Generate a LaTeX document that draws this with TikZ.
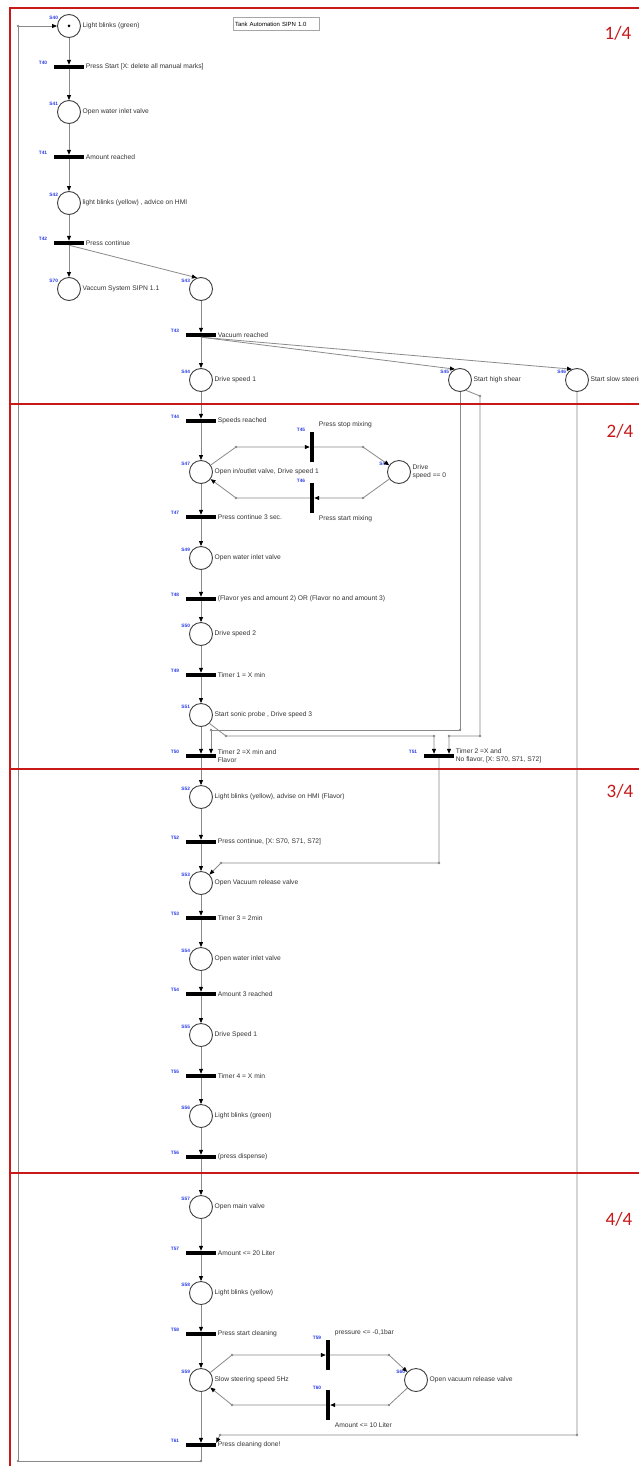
\documentclass[tikz,border=0pt]{standalone}
\usepackage{fontspec}
\setmainfont{Liberation Sans}
\newfontfamily\sheetfont{Carlito}
\usetikzlibrary{arrows.meta}
\definecolor{arcgrey}{RGB}{138,138,138}
\definecolor{idblue}{RGB}{40,60,230}
\definecolor{sheetred}{RGB}{200,24,24}

\begin{document}
\begin{tikzpicture}[
        x=1pt,y=-1pt,
        every node/.style={font=\fontsize{6.7}{8}\selectfont},
        place/.style={circle,draw=black!75,line width=0.9pt,fill=white,minimum size=23pt,inner sep=0pt},
        pl/.style 2 args={place,
            label={[idtag,anchor=south east]150:#1},
            label={[desctxt,anchor=west]east:#2}},
        bar/.style={fill=black,inner sep=0pt,minimum width=30pt,minimum height=4pt},
        tr/.style 2 args={bar,
            label={[idtag,anchor=east,xshift=-6pt,yshift=4pt]west:#1},
            label={[desctxt,anchor=west]east:#2}},
        vbar/.style={bar,minimum width=4pt,minimum height=30pt},
        vtrup/.style 2 args={vbar,
            label={[idtag,anchor=south east,xshift=-4pt]north west:#1},
            label={[desctxt,anchor=south west,xshift=3pt,yshift=2pt]north east:#2}},
        vtrdown/.style 2 args={vbar,
            label={[idtag,anchor=south east,xshift=-4pt]north west:#1},
            label={[desctxt,anchor=north west,xshift=3pt,yshift=-1pt]south east:#2}},
        idtag/.style={font=\fontsize{4.8}{5}\selectfont\bfseries,text=idblue,inner sep=0.5pt},
        desctxt/.style={text=black!80,inner sep=1.5pt,align=left},
        flow/.style={draw=arcgrey,line width=0.8pt,-{Triangle[length=5pt,width=4pt,color=black]}},
        sheet/.style={draw=sheetred,line width=1.6pt},
        sheetno/.style={font=\sheetfont\fontsize{19}{22}\selectfont,text=sheetred}
    ]
    \fill[white] (0,0) rectangle (639,1466);
    \useasboundingbox (0,0) rectangle (639,1466);

    \node[draw=black!35,minimum width=86pt,minimum height=13pt,inner sep=2pt,text width=82pt,font=\fontsize{6}{7}\selectfont] (title) at (276,24) {Tank Automation SIPN 1.0};

    \node[pl={S40}{Light blinks (green)}] (S40) at (69,26) {};
    \node[tr={T40}{Press Start [X: delete all manual marks]}] (T40) at (69,67) {};
    \node[pl={S41}{Open water inlet valve}] (S41) at (69,112) {};
    \node[tr={T41}{Amount reached}] (T41) at (69,157) {};
    \node[pl={S42}{light blinks (yellow) , advice on HMI}] (S42) at (69,203) {};
    \node[tr={T42}{Press continue}] (T42) at (69,243) {};
    \node[pl={S70}{Vaccum System SIPN 1.1}] (S70) at (69,289) {};
    \node[pl={S43}{}] (S43) at (201,289) {};
    \node[tr={T43}{Vacuum reached}] (T43) at (201,335) {};
    \node[pl={S44}{Drive speed 1}] (S44) at (201,380) {};
    \node[pl={S45}{Start high shear}] (S45) at (460,380) {};
    \node[pl={S46}{Start slow steering}] (S46) at (577,380) {};

    \node[tr={T44}{Speeds reached}] (T44) at (201,421) {};
    \node[pl={S47}{Open in/outlet valve, Drive speed 1}] (S47) at (201,472) {};
    \node[vtrup={T45}{Press stop mixing}] (T45) at (312,447) {};
    \node[vtrdown={T46}{Press start mixing}] (T46) at (312,498) {};
    \node[pl={S48}{Drive\\speed == 0}] (S48) at (399,472) {};
    \node[tr={T47}{Press continue 3 sec.}] (T47) at (201,517) {};
    \node[pl={S49}{Open water inlet valve}] (S49) at (201,558) {};
    \node[tr={T48}{(Flavor yes and amount 2) OR (Flavor no and amount 3)}] (T48) at (201,599) {};
    \node[pl={S50}{Drive speed 2}] (S50) at (201,634) {};
    \node[tr={T49}{Timer 1 = X min}] (T49) at (201,675) {};
    \node[pl={S51}{Start sonic probe , Drive speed 3}] (S51) at (201,715) {};
    \node[tr={T50}{Timer 2 =X min and\\Flavor}] (T50) at (201,756) {};
    \node[tr={T51}{Timer 2 =X and\\No flavor, [X: S70, S71, S72]}] (T51) at (439,756) {};

    \node[pl={S52}{Light blinks (yellow), advise on HMI (Flavor)}] (S52) at (201,797) {};
    \node[tr={T52}{Press continue, [X: S70, S71, S72]}] (T52) at (201,842) {};
    \node[pl={S53}{Open Vacuum release valve}] (S53) at (201,883) {};
    \node[tr={T53}{Timer 3 = 2min}] (T53) at (201,918) {};
    \node[pl={S54}{Open water inlet valve}] (S54) at (201,959) {};
    \node[tr={T54}{Amount 3 reached}] (T54) at (201,994) {};
    \node[pl={S55}{Drive Speed 1}] (S55) at (201,1035) {};
    \node[tr={T55}{Timer 4 = X min}] (T55) at (201,1076) {};
    \node[pl={S56}{Light blinks (green)}] (S56) at (201,1116) {};
    \node[tr={T56}{(press dispense)}] (T56) at (201,1157) {};

    \node[pl={S57}{Open main valve}] (S57) at (201,1207) {};
    \node[tr={T57}{Amount <= 20 Liter}] (T57) at (201,1253) {};
    \node[pl={S58}{Light blinks (yellow)}] (S58) at (201,1293) {};
    \node[tr={T58}{Press start cleaning}] (T58) at (201,1334) {};
    \node[pl={S59}{Slow steering speed 5Hz}] (S59) at (201,1380) {};
    \node[vtrup={T59}{pressure <= -0,1bar}] (T59) at (328,1355) {};
    \node[vtrdown={T60}{Amount <= 10 Liter}] (T60) at (328,1405) {};
    \node[pl={S60}{Open vacuum release valve}] (S60) at (416,1380) {};
    \node[tr={T61}{Press cleaning done!}] (T61) at (201,1445) {};

    \fill (S40) circle (1.5pt);

    \coordinate (loopA) at (18,1461);
    \coordinate (loopB) at (18,26);
    \coordinate (loopC) at (201,1461);
    \coordinate (m1) at (236,447);
    \coordinate (m2) at (363,447);
    \coordinate (m3) at (363,498);
    \coordinate (m4) at (236,498);
    \coordinate (h1) at (460,730);
    \coordinate (h2) at (211,730);
    \coordinate (h3) at (480,396);
    \coordinate (h4) at (480,736);
    \coordinate (h5) at (449,736);
    \coordinate (h6) at (226,736);
    \coordinate (h7) at (434,736);
    \coordinate (r1) at (439,863);
    \coordinate (r2) at (221,863);
    \coordinate (c1) at (232,1355);
    \coordinate (c2) at (389,1355);
    \coordinate (c3) at (389,1405);
    \coordinate (c4) at (232,1405);
    \coordinate (d1) at (577,1435);
    \coordinate (d2) at (220,1435);

    \foreach \a/\b in {S40/T40,T40/S41,S41/T41,T41/S42,S42/T42,T42/S70,S43/T43,T43/S44,
        S44/T44,T44/S47,S47/T47,T47/S49,S49/T48,T48/S50,S50/T49,T49/S51,S51/T50,T50/S52,
        S52/T52,T52/S53,S53/T53,T53/S54,S54/T54,T54/S55,S55/T55,T55/S56,S56/T56,T56/S57,
        S57/T57,T57/S58,S58/T58,T58/S59,S59/T61}
        \draw[flow] (\a) -- (\b);
    \draw[flow] (T42.south) -- (S43.110);
    \draw[flow] (T43.south) -- (S45.115);
    \draw[flow] (T43.south) -- (S46.115);
    \draw[flow] (S47) -- (m1) -- (T45);
    \draw[flow] (T45) -- (m2) -- (S48);
    \draw[flow] (S48) -- (m3) -- (T46);
    \draw[flow] (T46) -- (m4) -- (S47);
    \draw[flow] (S45.south) -- (h1) -- (h2) -- (T50.north -| h2);
    \draw[flow] (S45.-60) -- (h3) -- (h4) -- (h5) -- (T51.north -| h5);
    \draw[flow] (S51.-45) -- (h6) -- (h7) -- (T51.north -| h7);
    \draw[flow] (T51) -- (r1) -- (r2) -- (S53);
    \draw[flow] (S59) -- (c1) -- (T59);
    \draw[flow] (T59) -- (c2) -- (S60);
    \draw[flow] (S60) -- (c3) -- (T60);
    \draw[flow] (T60) -- (c4) -- (S59);
    \draw[flow] (S46) -- (d1) -- (d2) -- (T61.north east);
    \draw[flow] (T61) -- (loopC) -- (loopA) -- (loopB) -- (S40);
    \foreach \j in {loopA,loopB,loopC,m1,m2,m3,m4,h1,h2,h3,h4,h5,h6,h7,r1,r2,c1,c2,c3,c4,d1,d2}
        \fill[arcgrey] (\j) circle (1.4pt);

    \draw[sheet] (10,1470) -- (10,8) -- (650,8);
    \draw[sheet] (10,404) -- (650,404);
    \draw[sheet] (10,769) -- (650,769);
    \draw[sheet] (10,1173) -- (650,1173);
    \node[sheetno] (sheet1) at (618,33) {1/4};
    \node[sheetno] (sheet2) at (620,431) {2/4};
    \node[sheetno] (sheet3) at (620,791) {3/4};
    \node[sheetno] (sheet4) at (619,1219) {4/4};
\end{tikzpicture}
\end{document}
